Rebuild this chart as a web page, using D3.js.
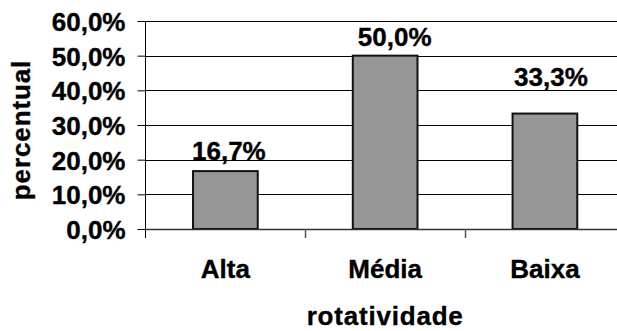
<!DOCTYPE html>
<html>
<head>
<meta charset="utf-8">
<script src="https://cdn.jsdelivr.net/npm/d3@7"></script>
<style>
  html, body { margin: 0; padding: 0; background: #fff; }
  svg text { font-family: "Liberation Sans", Arial, Helvetica, sans-serif; font-weight: bold; fill: #000; stroke: #000; stroke-width: 0.35px; }
</style>
</head>
<body>
<svg id="chart" width="617" height="331"></svg>
<script>
// Turnover (rotatividade) distribution
const categories = ["Alta", "Média", "Baixa"];
const shares = [0.167, 0.500, 0.333];
const valueLabels = ["16,7%", "50,0%", "33,3%"];
const yTicks = [0, 0.1, 0.2, 0.3, 0.4, 0.5, 0.6];
const yTickLabels = ["0,0%", "10,0%", "20,0%", "30,0%", "40,0%", "50,0%", "60,0%"];

// small hand placement of each value label relative to its bar (dx, dy)
const labelShift = { "Alta": [3.5, -11.5], "Média": [9.5, -9.5], "Baixa": [6, -27.5] };

const svg = d3.select("#chart");
const plot = { left: 145.5, right: 624.8, top: 21, bottom: 229 };

const x = d3.scaleBand()
  .domain(categories)
  .range([plot.left, plot.right])
  .paddingInner(0.595)
  .paddingOuter(0.2975);

const xEdges = d3.scaleBand().domain(categories).range([plot.left, plot.right]).padding(0);

const y = d3.scaleLinear().domain([0, 0.6]).range([plot.bottom, plot.top]);

// horizontal gridlines
svg.append("g")
  .selectAll("line")
  .data(yTicks.slice(1))
  .join("line")
  .attr("x1", plot.left)
  .attr("x2", plot.right)
  .attr("y1", d => Math.round(y(d)) + 0.5)
  .attr("y2", d => Math.round(y(d)) + 0.5)
  .attr("stroke", "#000")
  .attr("stroke-width", 1);

// y axis
const yAxis = d3.axisLeft(y)
  .tickValues(yTicks)
  .tickFormat((d, i) => yTickLabels[i])
  .tickSize(8)
  .tickSizeOuter(0)
  .tickPadding(12);

const gy = svg.append("g")
  .attr("transform", `translate(${plot.left},0)`)
  .call(yAxis);
gy.select(".domain").remove();
gy.selectAll(".tick line").attr("stroke", "#000");
gy.selectAll(".tick text")
  .attr("font-size", 26)
  .attr("dy", "0.36em");
gy.append("line")
  .attr("x1", 0).attr("x2", 0)
  .attr("y1", plot.top).attr("y2", plot.bottom + 9)
  .attr("stroke", "#000");

// bars
svg.append("g")
  .selectAll("rect")
  .data(categories)
  .join("rect")
  .attr("x", d => x(d))
  .attr("y", (d, i) => y(shares[i]))
  .attr("width", x.bandwidth())
  .attr("height", (d, i) => y(0) - y(shares[i]))
  .attr("fill", "#969696")
  .attr("stroke", "#111")
  .attr("stroke-width", 2);

// x axis baseline and category separators
svg.append("line")
  .attr("x1", plot.left).attr("x2", plot.right)
  .attr("y1", plot.bottom + 0.5).attr("y2", plot.bottom + 0.5)
  .attr("stroke", "#333")
  .attr("stroke-width", 1.5);

svg.append("g")
  .selectAll("line")
  .data(categories.slice(1))
  .join("line")
  .attr("x1", d => Math.round(xEdges(d)) + 0.5)
  .attr("x2", d => Math.round(xEdges(d)) + 0.5)
  .attr("y1", plot.bottom)
  .attr("y2", plot.bottom + 9)
  .attr("stroke", "#555")
  .attr("stroke-width", 1.5);

// category labels
svg.append("g")
  .selectAll("text")
  .data(categories)
  .join("text")
  .attr("x", d => x(d) + x.bandwidth() / 2)
  .attr("y", 277.5)
  .attr("text-anchor", "middle")
  .attr("font-size", 26)
  .text(d => d);

// value labels above bars
svg.append("g")
  .selectAll("text")
  .data(categories)
  .join("text")
  .attr("x", d => x(d) + x.bandwidth() / 2 + labelShift[d][0])
  .attr("y", (d, i) => y(shares[i]) + labelShift[d][1])
  .attr("text-anchor", "middle")
  .attr("font-size", 26)
  .text((d, i) => valueLabels[i]);

// axis titles
svg.append("text")
  .attr("x", (plot.left + plot.right) / 2)
  .attr("y", 325)
  .attr("text-anchor", "middle")
  .attr("font-size", 26)
  .attr("letter-spacing", 0.8)
  .text("rotatividade");

svg.append("text")
  .attr("transform", "translate(30,130) rotate(-90)")
  .attr("text-anchor", "middle")
  .attr("font-size", 26)
  .attr("letter-spacing", 0.9)
  .text("percentual");
</script>
</body>
</html>
